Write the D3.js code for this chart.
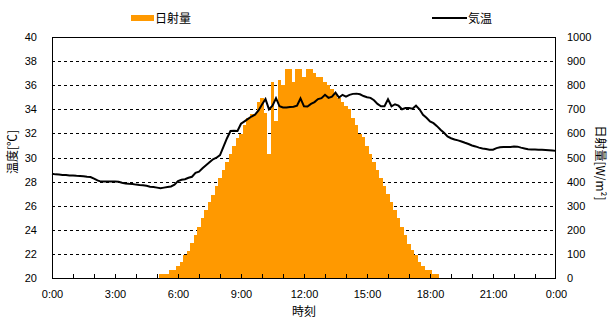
<!DOCTYPE html>
<html>
<head>
<meta charset="utf-8">
<script src="https://cdn.jsdelivr.net/npm/d3@7/dist/d3.min.js"></script>
<style>
  body { margin: 0; background: #fff; }
  text { font-family: "Liberation Sans", Arial, sans-serif; font-size: 11px; fill: #000; }
  .jp { font-family: "Noto Sans CJK JP", sans-serif; font-size: 12px; }
</style>
</head>
<body>
<svg id="chart" width="613" height="324"></svg>
<script>
// x axis labels every 3 hours
const hourLabels = [0, 3, 6, 9, 12, 15, 18, 21, 24];
const hourText = ["0:00", "3:00", "6:00", "9:00", "12:00", "15:00", "18:00", "21:00", "0:00"];

const tempTicks = [20, 22, 24, 26, 28, 30, 32, 34, 36, 38, 40];
const radTicks = [0, 100, 200, 300, 400, 500, 600, 700, 800, 900, 1000];

// 10-minute values, 0:00 .. 24:00 (145 points), one row per hour
const radiation = [
  0, 0, 0, 0, 0, 0,
  0, 0, 0, 0, 0, 0,
  0, 0, 0, 0, 0, 0,
  0, 0, 0, 0, 0, 0,
  0, 0, 0, 0, 0, 0,
  0, 15, 15, 15, 32, 32,
  48, 65, 97, 114, 147, 180,
  213, 247, 281, 314, 346, 381,
  413, 447, 481, 514, 547, 582,
  597, 634, 662, 679, 679, 730,
  748, 683, 514, 814, 652, 820,
  800, 867, 867, 814, 867, 867,
  834, 867, 867, 850, 834, 834,
  813, 800, 784, 765, 748, 730,
  715, 701, 663, 634, 598, 583,
  547, 514, 481, 447, 414, 381,
  348, 314, 281, 247, 213, 180,
  140, 115, 97, 65, 48, 32,
  32, 15, 15, 0, 0, 0,
  0, 0, 0, 0, 0, 0,
  0, 0, 0, 0, 0, 0,
  0, 0, 0, 0, 0, 0,
  0, 0, 0, 0, 0, 0,
  0, 0, 0, 0, 0, 0,
  0
];

const temperature = [
  28.65, 28.6, 28.58, 28.55, 28.55, 28.5,
  28.5, 28.48, 28.47, 28.45, 28.4, 28.38,
  28.25, 28.1, 28.0, 28.0, 28.0, 28.0,
  28.0, 27.98, 27.9, 27.85, 27.82, 27.8,
  27.75, 27.72, 27.7, 27.65, 27.58, 27.55,
  27.5, 27.45, 27.5, 27.55, 27.6, 27.75,
  28.05, 28.15, 28.2, 28.32, 28.4, 28.72,
  28.82, 29.1, 29.35, 29.6, 29.85, 29.98,
  30.2, 30.9, 31.6, 32.2, 32.22, 32.2,
  32.8, 33.0, 33.2, 33.4, 33.55, 33.9,
  34.4, 34.85, 34.0, 34.3, 34.92, 34.25,
  34.15, 34.15, 34.2, 34.22, 34.3, 34.9,
  34.25, 34.23, 34.45, 34.6, 34.85, 34.92,
  35.2, 34.95, 35.05, 35.38, 34.97, 35.2,
  35.05, 35.2, 35.28, 35.3, 35.25, 35.1,
  35.0, 34.95, 34.75, 34.45, 34.25, 34.25,
  34.83, 34.25, 34.42, 34.3, 34.0, 34.1,
  34.1, 34.05, 34.3, 34.0, 33.55, 33.3,
  33.0, 32.85, 32.6, 32.3, 32.05, 31.75,
  31.6, 31.5, 31.42, 31.33, 31.22, 31.12,
  31.0, 30.92, 30.82, 30.75, 30.7, 30.65,
  30.65, 30.78, 30.85, 30.88, 30.88, 30.88,
  30.92, 30.9, 30.82, 30.75, 30.68, 30.67,
  30.66, 30.65, 30.64, 30.62, 30.6, 30.58,
  30.55
];

const plotLeft = 52, plotRight = 556, plotTop = 37, plotBottom = 278;

const svg = d3.select("#chart");

const x = d3.scaleLinear().domain([0, 24]).range([plotLeft, plotRight]);
const slotX = (i) => x(i / 6);
const slotW = x(1 / 6) - x(0);
const yT = d3.scaleLinear().domain([20, 40]).range([plotBottom, plotTop]);
const yR = d3.scaleLinear().domain([0, 1000]).range([plotBottom, plotTop]);

// dashed grid
svg.append("g")
  .selectAll("line")
  .data(tempTicks.slice(1, -1))
  .join("line")
  .attr("x1", plotLeft)
  .attr("x2", plotRight)
  .attr("y1", (d) => Math.round(yT(d)) + 0.5)
  .attr("y2", (d) => Math.round(yT(d)) + 0.5)
  .attr("stroke", "#000")
  .attr("stroke-dasharray", "3,3");

// radiation bars
svg.append("g")
  .attr("shape-rendering", "crispEdges")
  .selectAll("rect")
  .data(radiation.map((v, i) => ({ v, i })).filter((d) => d.v > 0))
  .join("rect")
  .attr("x", (d) => slotX(d.i) - slotW / 2)
  .attr("width", slotW)
  .attr("y", (d) => yR(d.v))
  .attr("height", (d) => plotBottom - yR(d.v))
  .attr("fill", "#ff9900");

// temperature line
svg.append("path")
  .datum(temperature)
  .attr("fill", "none")
  .attr("stroke", "#000")
  .attr("stroke-width", 2)
  .attr("d", d3.line().x((d, i) => slotX(i)).y((d) => yT(d)));

// frame
svg.append("rect")
  .attr("x", plotLeft + 0.5)
  .attr("y", plotTop + 0.5)
  .attr("width", plotRight - plotLeft - 1)
  .attr("height", plotBottom - plotTop)
  .attr("fill", "none")
  .attr("stroke", "#000")
  .attr("shape-rendering", "crispEdges");

// hourly inner ticks
svg.append("g")
  .attr("transform", `translate(0,${plotBottom})`)
  .call(d3.axisBottom(x).tickValues(d3.range(1, 24)).tickSize(-4).tickFormat(""))
  .call((g) => g.select(".domain").remove())
  .call((g) => g.selectAll("line").attr("shape-rendering", "crispEdges"));

// axes labels
svg.append("g")
  .attr("transform", `translate(${plotLeft},0)`)
  .call(d3.axisLeft(yT).tickValues(tempTicks).tickSize(0).tickPadding(15))
  .call((g) => g.select(".domain").remove())
  .call((g) => g.selectAll("text").attr("font-family", null).attr("font-size", null));

svg.append("g")
  .attr("transform", `translate(${plotRight},0)`)
  .call(d3.axisRight(yR).tickValues(radTicks).tickSize(0).tickPadding(11)
    .tickFormat(d3.format("d")))
  .call((g) => g.select(".domain").remove())
  .call((g) => g.selectAll("text").attr("font-family", null).attr("font-size", null));

svg.append("g")
  .attr("transform", `translate(0,${plotBottom})`)
  .call(d3.axisBottom(x).tickValues(hourLabels).tickSize(0).tickPadding(12)
    .tickFormat((d, i) => hourText[i]))
  .call((g) => g.select(".domain").remove())
  .call((g) => g.selectAll("text").attr("font-family", null).attr("font-size", null));

// titles
svg.append("text").attr("class", "jp")
  .attr("x", (plotLeft + plotRight) / 2).attr("y", 316)
  .attr("text-anchor", "middle").text("時刻");

svg.append("text").attr("class", "jp")
  .attr("transform", "translate(17,152) rotate(-90)")
  .attr("text-anchor", "middle").text("温度[℃]");

svg.append("text").attr("class", "jp")
  .attr("transform", "translate(596,163) rotate(90)")
  .attr("text-anchor", "middle").text("日射量[W/m²]");

// legend
const legend = svg.append("g");
legend.append("rect")
  .attr("x", 131).attr("y", 15).attr("width", 23).attr("height", 6)
  .attr("fill", "#ff9900");
legend.append("text").attr("class", "jp")
  .attr("x", 155).attr("y", 23).text("日射量");
legend.append("line")
  .attr("x1", 432).attr("x2", 467).attr("y1", 18).attr("y2", 18)
  .attr("stroke", "#000").attr("stroke-width", 2);
legend.append("text").attr("class", "jp")
  .attr("x", 468).attr("y", 23).text("気温");
</script>
</body>
</html>
